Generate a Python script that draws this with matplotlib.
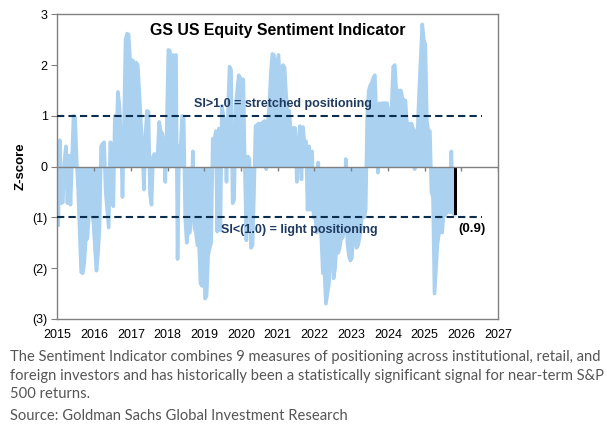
import matplotlib
matplotlib.use("Agg")
import matplotlib.pyplot as plt
import numpy as np

plt.rcParams['font.family'] = ['Liberation Sans', 'DejaVu Sans']

# semi-monthly z-score readings, two per month
v2015 = [-1.15, 0.52, -0.72, -0.70, 0.10, 0.40, -0.72, 0.22, -0.75, 0.10, 1.00, 0.98,
         0.15, -0.45, -1.25, -2.08, -2.10, -1.90, -1.43, -1.42, -1.00, -0.80, -0.90, -1.10]
v2016 = [-1.60, -2.05, -1.70, -1.20, 0.40, 0.45, 0.48, -0.50, -0.85, -1.20, 0.48, 0.45,
         -0.78, 1.00, 0.50, 1.47, 1.20, 0.60, -0.60, 0.80, 2.50, 2.62, 2.60, 2.08]
v2017 = [2.10, 2.08, 1.30, 2.05, 2.00, 1.45, 0.90, 0.40, -0.45, 0.60, 1.10, 1.08,
         -0.55, -0.75, 0.20, 0.25, 0.22, 0.25, 0.88, 0.70, 0.65, 0.45, -0.30, 0.85]
v2018 = [2.30, 2.28, 0.50, 2.20, 2.15, 2.20, -1.82, 0.40, 0.35, 1.00, 0.95, -1.00,
         -1.50, -1.25, -1.30, -0.90, 0.30, -1.20, -1.30, -1.55, -1.50, -2.30, -2.35, -1.60]
v2019 = [-2.60, -2.55, -1.75, -1.60, -1.50, 0.55, 0.50, 0.70, -1.28, 0.75, -1.25, 1.20,
         1.00, 0.90, -0.30, 1.10, 1.97, 1.90, -0.72, -0.65, 1.20, 1.50, 1.80, 1.75]
v2020 = [1.70, 1.72, -0.05, -1.45, 0.20, 0.15, -1.60, -1.55, -0.50, 0.80, 0.82, 0.85,
         0.80, 0.85, 0.88, 0.90, -0.05, 0.85, 1.20, 1.85, 2.22, 2.20, 1.80, 2.00]
v2021 = [2.20, 1.60, 1.95, 2.00, 1.95, 1.40, 1.00, 1.10, 0.70, 0.65, 0.77, 0.75,
         -0.30, 0.30, 0.80, -0.25, 0.78, 0.45, 0.50, -0.85, 0.40, -0.85, 0.30, -1.00]
v2022 = [-0.95, -1.30, 0.08, -1.00, -1.40, -2.10, -2.05, -2.70, -2.50, -2.30, -1.50, -1.60,
         -2.20, -2.00, -1.50, -1.70, -1.60, -1.40, -1.40, -1.20, 0.15, -1.50, -1.75, -1.85]
v2023 = [-1.80, -1.25, -1.15, -1.60, -1.55, -1.40, -1.20, -0.75, -1.00, -0.85, 1.00, 1.50,
         1.60, 1.65, 1.75, 1.80, 1.00, -0.12, 1.25, 1.20, 1.25, 1.25, 1.25, 1.25]
v2024 = [1.00, 0.95, 1.20, 1.97, 2.00, 1.50, 1.40, 1.50, 1.50, 1.35, 1.30, 1.30,
         0.80, 0.85, 0.80, 0.85, 0.75, -0.05, 0.70, 0.75, 1.50, 2.15, 2.80, 2.50]
v2025 = [2.40, 0.90, 0.70, 0.70, -0.50, -0.60, -2.50, -2.00, -1.50, -1.30, -1.25, -1.30,
         -0.90, -0.95, -0.90, -0.85, -0.90, 0.30, -0.90, -0.95]
latest_date = 2025.85
latest_value = -0.95

year_ticks = list(range(2015, 2028))
y_ticks = [3, 2, 1, 0, -1, -2, -3]
y_labels = ["3", "2", "1", "0", "(1)", "(2)", "(3)"]

values = np.array(v2015 + v2016 + v2017 + v2018 + v2019 + v2020 + v2021
                  + v2022 + v2023 + v2024 + v2025)
dates = 2015 + (np.arange(len(values)) + 0.5) / 24.0

blue = "#AAD1F0"
navy = "#0B2D4E"
gray = "#808080"

fig = plt.figure(figsize=(6.07, 4.28), dpi=100)
ax = fig.add_axes([0.0947, 0.2547, 0.7257, 0.7119])

ax.fill_between(dates, 0, values, color=blue, lw=0, zorder=2)
ax.plot(dates, values, color=blue, lw=2.6, solid_joinstyle='round', zorder=2)
ax.bar([latest_date], [latest_value], width=0.09, color="black", zorder=3)

ax.axhline(0, color=gray, lw=1, zorder=4)
ax.vlines(year_ticks[1:], -0.08, 0, color=gray, lw=1, zorder=4)

for lvl in (1, -1):
    ax.plot([2015, 2026.57], [lvl, lvl], color=navy, lw=1.5,
            ls=(0, (3.5, 2.0)), zorder=5)

ax.set_xlim(2015, 2027)
ax.set_ylim(-3, 3)
ax.set_xticks(year_ticks)
ax.set_xticklabels([str(y) for y in year_ticks], fontsize=9)
ax.tick_params(axis='x', length=0, pad=7)
ax.set_yticks(y_ticks)
ax.set_yticklabels(y_labels, fontsize=9)
ax.tick_params(axis='y', length=4, color=gray, pad=3)
for sp in ax.spines.values():
    sp.set_color(gray)
    sp.set_linewidth(1)
ax.set_ylabel("Z-score", fontsize=9.5, fontweight='bold', labelpad=4)

ax.text(2021.0, 2.68, "GS US Equity Sentiment Indicator", ha='center', va='center',
        fontsize=11.4, fontweight='bold', zorder=6)
ax.text(2021.15, 1.23, "SI>1.0 = stretched positioning", ha='center', va='center',
        fontsize=9, fontweight='bold', color="#1F3A5F", zorder=6)
ax.text(2021.6, -1.25, "SI<(1.0) = light positioning", ha='center', va='center',
        fontsize=9, fontweight='bold', color="#1F3A5F", zorder=6)
ax.text(2026.3, -1.23, "(0.9)", ha='center', va='center',
        fontsize=9.5, fontweight='bold', color="black", zorder=6)

caption = ("The Sentiment Indicator combines 9 measures of positioning across institutional, retail, and\n"
           "foreign investors and has historically been a statistically significant signal for near-term S&P\n"
           "500 returns.")
fig.text(10 / 607, 1 - 350 / 428, caption, ha='left', va='top', fontsize=10.6,
         color="#555555", family=['Lato', 'DejaVu Sans'], linespacing=1.42)
fig.text(10 / 607, 1 - 420.5 / 428, "Source: Goldman Sachs Global Investment Research",
         ha='left', va='baseline', fontsize=10.6, color="#555555", family=['Lato', 'DejaVu Sans'])

fig.savefig("out.png", dpi=100)
